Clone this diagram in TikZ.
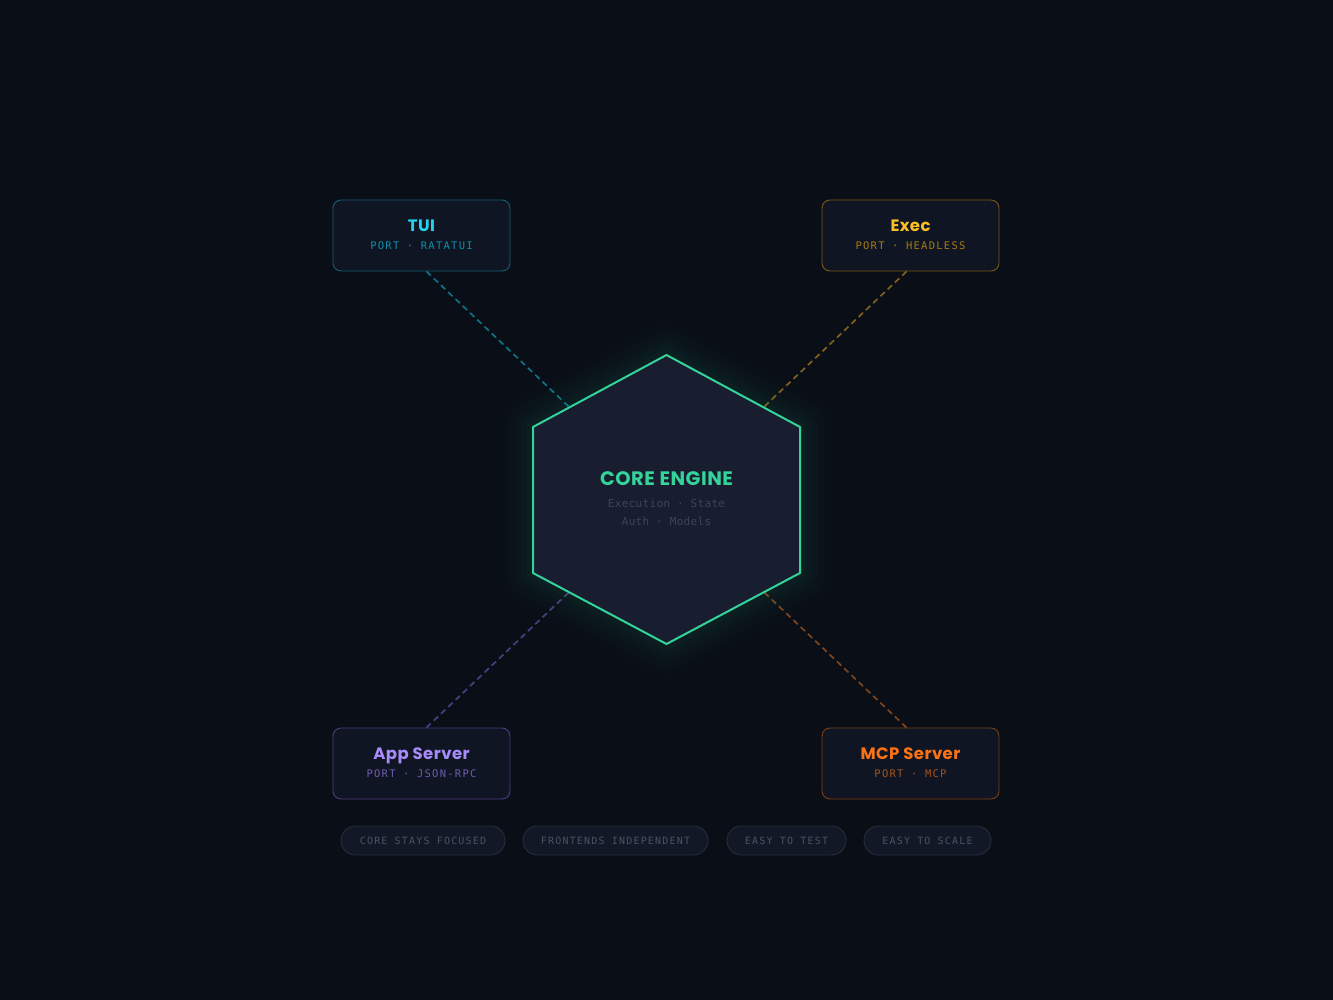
\documentclass[tikz,border=0pt]{standalone}
\usepackage{fontspec}
\setmainfont{Poppins}
\newfontfamily\titlefont[LetterSpace=2.5]{Poppins Bold}
\newfontfamily\monofont[LetterSpace=12]{DejaVu Sans Mono}
\newfontfamily\monocore[LetterSpace=3]{DejaVu Sans Mono}
\definecolor{bg}{HTML}{0A0E17}
\definecolor{boxfill}{HTML}{0F1522}
\definecolor{hexfill}{HTML}{181D2F}
\definecolor{green}{HTML}{34D399}
\definecolor{tuiT}{HTML}{22D3EE}\definecolor{tuiS}{HTML}{0E8FA8}\definecolor{tuiB}{HTML}{155E75}\definecolor{tuiL}{HTML}{0E7285}
\definecolor{exT}{HTML}{FBBF24}\definecolor{exS}{HTML}{A67C12}\definecolor{exB}{HTML}{7A5A18}\definecolor{exL}{HTML}{80601A}
\definecolor{apT}{HTML}{A78BFA}\definecolor{apS}{HTML}{6E5BB0}\definecolor{apB}{HTML}{4C3D80}\definecolor{apL}{HTML}{4A3E82}
\definecolor{mcT}{HTML}{F97316}\definecolor{mcS}{HTML}{A6531A}\definecolor{mcB}{HTML}{7C3F16}\definecolor{mcL}{HTML}{80441A}
\definecolor{coreS}{HTML}{3D4555}
\definecolor{pillfill}{HTML}{121826}\definecolor{pillB}{HTML}{252C3A}\definecolor{pillT}{HTML}{4A5263}
\tikzset{
  portbox/.style={draw, line width=0.9pt, fill=boxfill, rounded corners=8pt, minimum width=177pt, minimum height=71pt, inner sep=0pt},
  link/.style={dash pattern=on 6pt off 4pt, line width=1.7pt},
  pill/.style={draw=pillB, line width=0.9pt, fill=pillfill, rounded corners=14.5pt, minimum height=29pt, inner sep=0pt, text=pillT, font=\monofont\fontsize{10}{12}\selectfont},
  ttl/.style={font=\titlefont\fontsize{16.5}{18}\selectfont, anchor=base, inner sep=0pt},
  sub/.style={font=\monofont\fontsize{10.5}{12}\selectfont},
}
\begin{document}
\begin{tikzpicture}[x=1pt,y=-1pt]
\fill[bg] (0,0) rectangle (1333,1000);
\useasboundingbox (0,0) rectangle (1333,1000);
% boxes
\node[portbox, draw=tuiB] (tui) at (421.5,235.5) {};
\node[portbox, draw=exB] (exec) at (910.5,235.5) {};
\node[portbox, draw=apB] (app) at (421.5,763.5) {};
\node[portbox, draw=mcB] (mcp) at (910.5,763.5) {};
\coordinate (core) at (666.5,499.5);
% connectors (behind hexagon)
\draw[link, tuiL] ([xshift=5pt]tui.south) -- (core);
\draw[link, exL] ([xshift=-4pt]exec.south) -- (core);
\draw[link, apL] ([xshift=5pt]app.north) -- (core);
\draw[link, mcL] ([xshift=-4pt]mcp.north) -- (core);
% glow
\foreach \w/\o in {64/0.012, 50/0.015, 36/0.018, 24/0.022, 12/0.03}{
  \draw[green, line width=\w pt, opacity=\o, line join=round]
    (666.5,355) -- (800,427) -- (800,573) -- (666.5,644) -- (533,573) -- (533,427) -- cycle;
}
% hexagon
\filldraw[fill=hexfill, draw=green, line width=2pt, line join=miter]
  (666.5,355) -- (800,427) -- (800,573) -- (666.5,644) -- (533,573) -- (533,427) -- cycle;
\node[font=\titlefont\fontsize{19.5}{20}\selectfont, text=green, anchor=base, inner sep=0pt] (coretitle) at (666.5,485) {CORE ENGINE};
\node[font=\monocore\fontsize{11}{13}\selectfont, text=coreS] (corel1) at (666.5,503.5) {Execution · State};
\node[font=\monocore\fontsize{11}{13}\selectfont, text=coreS] (corel2) at (666.5,521.5) {Auth · Models};
% box texts
\node[ttl, text=tuiT] (tuit) at (421.5,231.5) {TUI};
\node[sub, text=tuiS] (tuis) at (421.5,246) {PORT · RATATUI};
\node[ttl, text=exT] (exect) at (910.5,231.5) {Exec};
\node[sub, text=exS] (execs) at (910.5,246) {PORT · HEADLESS};
\node[ttl, text=apT] (appt) at (421.5,759.5) {App Server};
\node[sub, text=apS] (apps) at (421.5,774) {PORT · JSON-RPC};
\node[ttl, text=mcT] (mcpt) at (910.5,759.5) {MCP Server};
\node[sub, text=mcS] (mcps) at (910.5,774) {PORT · MCP};
% pills
\node[pill, minimum width=164pt] (p1) at (423,840.5) {CORE STAYS FOCUSED};
\node[pill, minimum width=185pt] (p2) at (615.5,840.5) {FRONTENDS INDEPENDENT};
\node[pill, minimum width=119pt] (p3) at (786.5,840.5) {EASY TO TEST};
\node[pill, minimum width=127pt] (p4) at (927.5,840.5) {EASY TO SCALE};
\end{tikzpicture}
\end{document}
